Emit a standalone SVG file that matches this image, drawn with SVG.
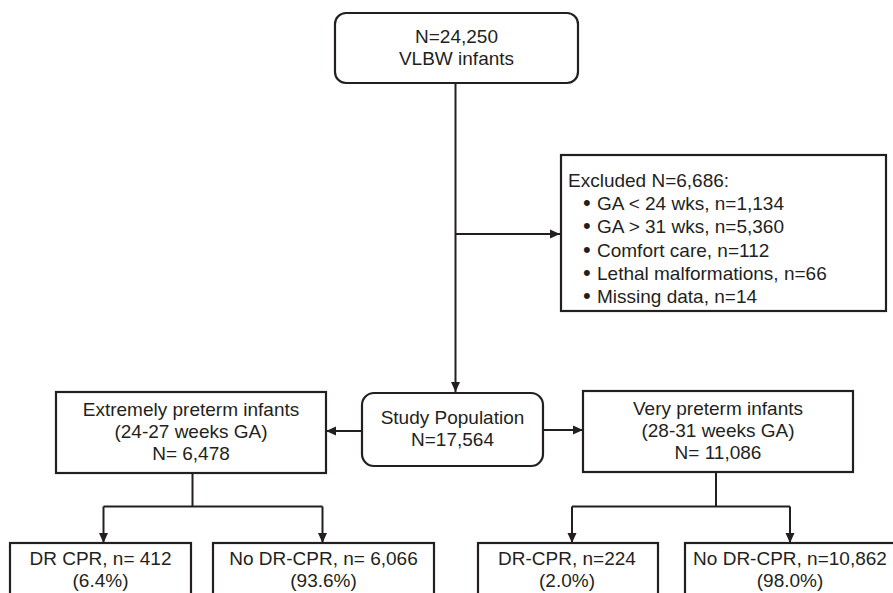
<svg xmlns="http://www.w3.org/2000/svg" width="893" height="593" viewBox="0 0 893 593">
<style>
.box{fill:#fff;stroke:#231f20;stroke-width:2.2}
.t{font-family:"Liberation Sans",Arial,sans-serif;font-size:19px;fill:#231f20}
.c{text-anchor:middle}
.b{font-size:22px}
.ln{fill:none;stroke:#231f20;stroke-width:2}
</style>
<defs>
<marker id="ah" markerUnits="userSpaceOnUse" markerWidth="10" markerHeight="10" viewBox="0 0 10 10" refX="10" refY="5" orient="auto">
<path d="M0,0.5 L10,5 L0,9.5 Z" fill="#231f20"/>
</marker>
</defs>
<rect width="893" height="593" fill="#fff"/>
<g id="connectors">
<line class="ln" x1="455.5" y1="83" x2="455.5" y2="392" marker-end="url(#ah)"/>
<line class="ln" x1="455.5" y1="234" x2="560" y2="234" marker-end="url(#ah)"/>
<line class="ln" x1="362" y1="431" x2="326" y2="431" marker-end="url(#ah)"/>
<line class="ln" x1="543" y1="430" x2="583" y2="430" marker-end="url(#ah)"/>
<path class="ln" d="M192.5,473 V506.5 M103.5,506.5 H322.5"/>
<line class="ln" x1="103.5" y1="506.5" x2="103.5" y2="543" marker-end="url(#ah)"/>
<line class="ln" x1="322.5" y1="506.5" x2="322.5" y2="543" marker-end="url(#ah)"/>
<path class="ln" d="M716,472 V506.5 M572,506.5 H790"/>
<line class="ln" x1="572" y1="506.5" x2="572" y2="543" marker-end="url(#ah)"/>
<line class="ln" x1="790" y1="506.5" x2="790" y2="543" marker-end="url(#ah)"/>
</g>
<g id="n_total">
<rect class="box" x="335" y="13" width="243" height="70" rx="11"/>
<text class="t c" x="456.5" y="43">N=24,250</text>
<text class="t c" x="456.5" y="65">VLBW infants</text>
</g>
<g id="n_excluded">
<rect class="box" x="561" y="155" width="325" height="156"/>
<text class="t" x="568" y="187">Excluded N=6,686:</text>
<text class="t" y="210"><tspan class="b" x="583">•</tspan><tspan x="597">GA &lt; 24 wks, n=1,134</tspan></text>
<text class="t" y="233.4"><tspan class="b" x="583">•</tspan><tspan x="597">GA &gt; 31 wks, n=5,360</tspan></text>
<text class="t" y="256.6"><tspan class="b" x="583">•</tspan><tspan x="597">Comfort care, n=112</tspan></text>
<text class="t" y="279.8"><tspan class="b" x="583">•</tspan><tspan x="597">Lethal malformations, n=66</tspan></text>
<text class="t" y="303"><tspan class="b" x="583">•</tspan><tspan x="597">Missing data, n=14</tspan></text>
</g>
<g id="n_study">
<rect class="box" x="362" y="393" width="181" height="73" rx="12"/>
<text class="t c" x="452.5" y="424">Study Population</text>
<text class="t c" x="452.5" y="446">N=17,564</text>
</g>
<g id="n_extreme">
<rect class="box" x="56" y="392" width="270" height="81"/>
<text class="t c" x="191" y="416">Extremely preterm infants</text>
<text class="t c" x="191" y="438">(24-27 weeks GA)</text>
<text class="t c" x="191" y="460">N= 6,478</text>
</g>
<g id="n_very">
<rect class="box" x="583" y="391" width="270" height="81"/>
<text class="t c" x="718" y="415">Very preterm infants</text>
<text class="t c" x="718" y="437">(28-31 weeks GA)</text>
<text class="t c" x="718" y="459">N= 11,086</text>
</g>
<g id="n_ep_cpr">
<rect class="box" x="10" y="543" width="181" height="70"/>
<text class="t c" x="100.5" y="565">DR CPR, n= 412</text>
<text class="t c" x="100.5" y="587">(6.4%)</text>
</g>
<g id="n_ep_nocpr">
<rect class="box" x="213" y="543" width="221" height="70"/>
<text class="t c" x="323.5" y="565">No DR-CPR, n= 6,066</text>
<text class="t c" x="323.5" y="587">(93.6%)</text>
</g>
<g id="n_vp_cpr">
<rect class="box" x="478" y="543" width="180" height="70"/>
<text class="t c" x="567" y="565">DR-CPR, n=224</text>
<text class="t c" x="567" y="587">(2.0%)</text>
</g>
<g id="n_vp_nocpr">
<rect class="box" x="685" y="543" width="215" height="70"/>
<text class="t c" x="790" y="565">No DR-CPR, n=10,862</text>
<text class="t c" x="790" y="587">(98.0%)</text>
</g>
</svg>
